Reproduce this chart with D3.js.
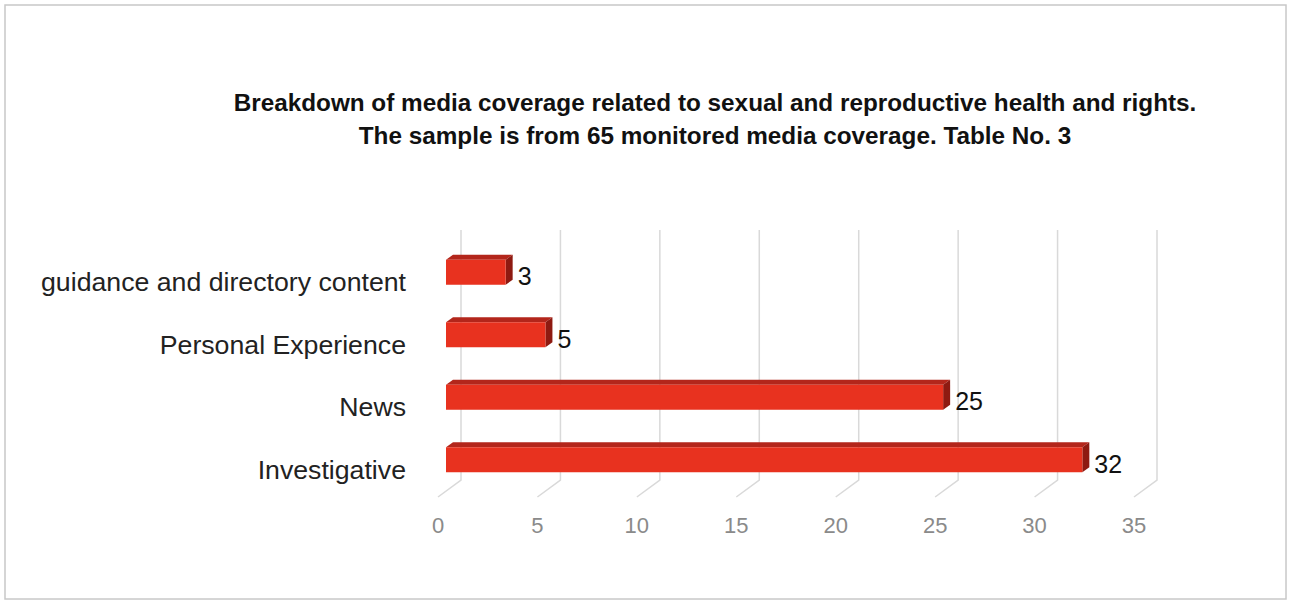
<!DOCTYPE html>
<html><head><meta charset="utf-8">
<script src="https://cdn.jsdelivr.net/npm/d3@7"></script>
<style>
html,body{margin:0;padding:0;background:#fff;}
svg{display:block;}
</style></head>
<body>
<svg id="chart" width="1291" height="601"></svg>
<script>
// ---- data ----
const categories = ["guidance and directory content", "Personal Experience", "News", "Investigative"];
const values = [3, 5, 25, 32];
const tickValues = [0, 5, 10, 15, 20, 25, 30, 35];
const titleLines = [
  "Breakdown of media coverage related to sexual and reproductive health and rights.",
  "The sample is from 65 monitored media coverage. Table No. 3"
];

const svg = d3.select("#chart");
const narrow = "'Liberation Sans Narrow','Arial Narrow','Liberation Sans',Arial,sans-serif";
const sans = "'Liberation Sans',Arial,sans-serif";

// border
svg.append("rect").attr("x", 5).attr("y", 5).attr("width", 1281).attr("height", 594)
  .attr("fill", "#fff").attr("stroke", "#c8c8c8").attr("stroke-width", 1.5);

// title
svg.append("text").attr("x", 714).attr("y", 111).attr("text-anchor", "middle")
  .attr("font-family", sans).attr("font-weight", "bold").attr("font-size", 24.3).attr("fill", "#111")
  .selectAll("tspan").data(titleLines).join("tspan")
  .attr("x", 715).attr("dy", (d, i) => i === 0 ? 0 : 33).text(d => d);

// scales
const xBack = d3.scaleLinear().domain([0, 35]).range([461, 1157]);
const wallTop = 230, wallBottom = 480;
const floorDx = -23, floorDy = 17;
const barShift = -15;       // front face of bars relative to back wall
const depthDx = 7, depthDy = -5; // bar depth
const y = d3.scaleBand().domain(categories).range([241, 491]).padding(0);
const barH = 25;

// gridlines on back wall + floor
const grid = svg.append("g").attr("stroke", "#d9d9d9").attr("stroke-width", 1.5).attr("fill", "none");
grid.selectAll("path").data(tickValues).join("path")
  .attr("d", d => `M${xBack(d)},${wallTop}V${wallBottom}l${floorDx},${floorDy}`);

// axis tick labels
svg.append("g").selectAll("text").data(tickValues).join("text")
  .attr("x", d => xBack(d) + floorDx).attr("y", 533).attr("text-anchor", "middle")
  .attr("font-family", narrow).attr("font-size", 22).attr("fill", "#8a8a8a")
  .text(d => d);

// bars
const bars = svg.append("g").selectAll("g").data(categories).join("g");
bars.each(function(c, i) {
  const g = d3.select(this);
  const x0 = xBack(0) + barShift, x1 = xBack(values[i]) + barShift;
  const yc = y(c) + y.bandwidth() / 2;
  const yt = yc - barH / 2, yb = yc + barH / 2;
  // top face
  g.append("path").attr("d", `M${x0},${yt}L${x0 + depthDx},${yt + depthDy}L${x1 + depthDx},${yt + depthDy}L${x1},${yt}Z`)
    .attr("fill", "#b3261b");
  // side face
  g.append("path").attr("d", `M${x1},${yt}L${x1 + depthDx},${yt + depthDy}L${x1 + depthDx},${yb + depthDy}L${x1},${yb}Z`)
    .attr("fill", "#8e1a11");
  // front face
  g.append("rect").attr("x", x0).attr("y", yt).attr("width", x1 - x0).attr("height", barH)
    .attr("fill", "#e8321f");
  // value label
  g.append("text").attr("x", x1 + depthDx + 5).attr("y", yc + 13)
    .attr("font-family", narrow).attr("font-size", 25).attr("fill", "#111")
    .text(values[i]);
  // category label
  g.append("text").attr("x", 406).attr("y", yc + 19).attr("text-anchor", "end")
    .attr("font-family", narrow).attr("font-size", 26.7).attr("fill", "#222")
    .text(c);
});
</script>
</body></html>
